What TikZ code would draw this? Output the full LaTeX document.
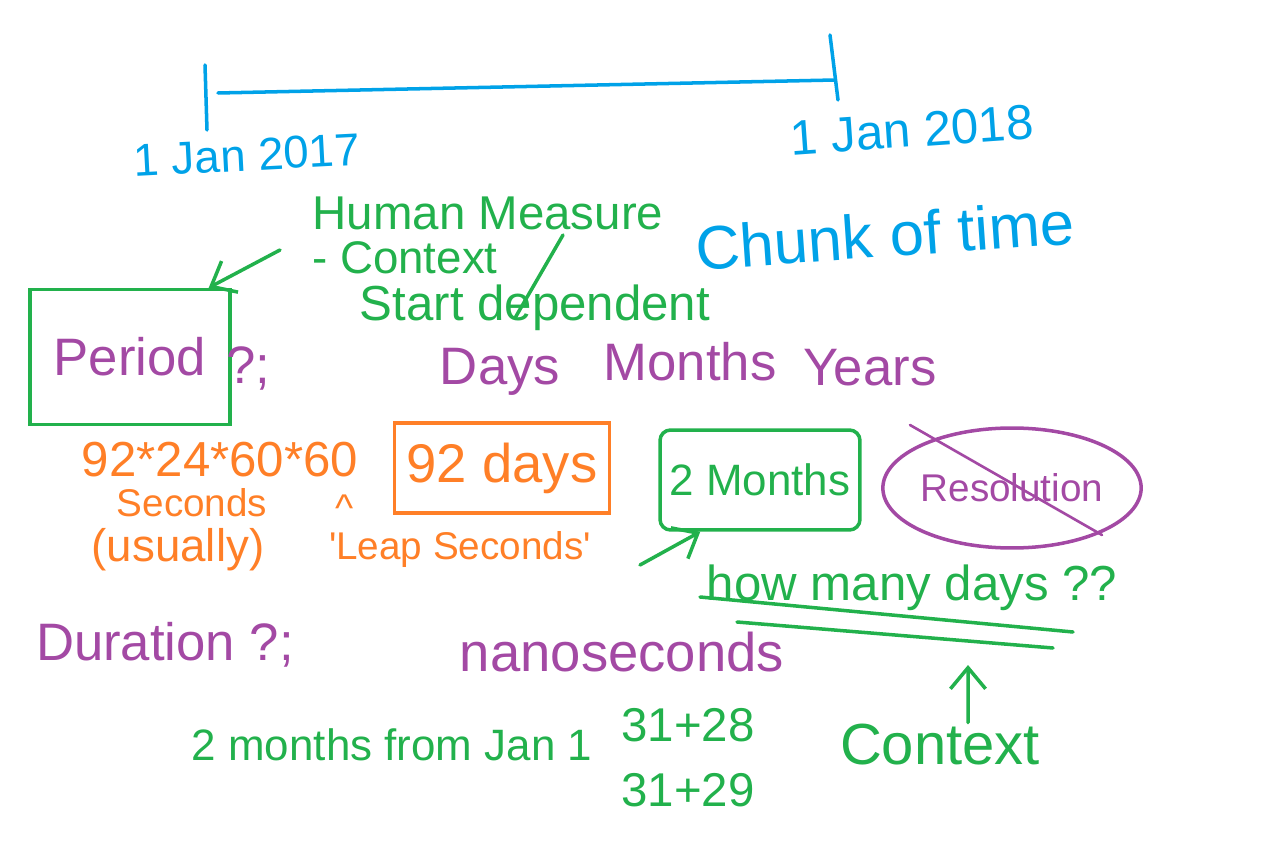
\documentclass[tikz,border=0pt]{standalone}
\usepackage{fontspec}
\setmainfont{Liberation Sans}
\usetikzlibrary{arrows.meta,shapes.geometric,positioning}
\definecolor{penblue}{RGB}{0,162,232}
\definecolor{pengreen}{RGB}{34,177,76}
\definecolor{penpurple}{RGB}{163,73,164}
\definecolor{penorange}{RGB}{255,127,39}
\tikzset{
  hand/.style={inner sep=0pt,font=\fontsize{#1pt}{#1pt}\selectfont},
  box/.style={draw,line width=2pt}
}
\begin{document}
\begin{tikzpicture}[x=0.02cm,y=-0.02cm,line width=2pt,line cap=round,
  >={Straight Barb[length=12pt,width=20pt]}]
  \useasboundingbox (0,0) rectangle (1264,847);

  % the year on a line
  \coordinate (t0) at (218,93);
  \coordinate (t1) at (835,80);
  \draw [penblue] (205,65) -- (207,130);
  \draw [penblue] (t0) -- (t1);
  \draw [penblue] (830,35) -- (838,100);
  \node [hand=26,penblue,rotate=3] (jan17) at (247,155) {1 Jan 2017};
  \node [hand=28,penblue,rotate=4] (jan18) at (912,130) {1 Jan 2018};
  \node [hand=35,penblue,rotate=4] (chunk) at (885,235) {Chunk of time};

  % green notes
  \node [hand=27,pengreen] (human) at (488,213) {Human Measure};
  \node [hand=26,pengreen] (context) at (405,258) {- Context};
  \node [hand=28,pengreen] (startdep) at (535,308) {Start dependent};
  \draw [pengreen] (563,235) -- (515,318);

  \node [box,pengreen,text=penpurple,hand=30,minimum width=4cm,
    minimum height=2.7cm] (period) at (130,357) {Period};
  \coordinate (hm) at (280,250);
  \draw [pengreen,->] (hm) -- ([xshift=-0.46cm]period.north east);
  \node [hand=30,penpurple] (q1) at (248,368) {?;};

  \node [hand=30,penpurple] (days) at (500,372) {Days};
  \node [hand=30,penpurple] (months) at (690,362) {Months};
  \node [hand=30,penpurple] (years) at (870,368) {Years};

  % orange
  \node [hand=28,penorange] (calc) at (220,460) {92*24*60*60};
  \node [hand=22,penorange] (secs) at (192,503) {Seconds};
  \node [hand=26,penorange] (usually) at (178,550) {(usually)};
  \node [hand=22,penorange] (caret) at (345,508) {\textasciicircum};
  \node [hand=22,penorange] (leap) at (460,550)
    {\textquotesingle Leap Seconds\textquotesingle};
  \node [box,penorange,hand=31,minimum width=4.3cm,
    minimum height=1.8cm] (ninety) at (502,468) {92 days};

  % two months
  \node [box,pengreen,rounded corners=6pt,hand=25,minimum width=4cm,
    minimum height=2cm] (twomonths) at (760,480) {2 Months};
  \node [ellipse,draw,penpurple,hand=22,minimum width=4.2cm,
    minimum height=2.4cm] (res) at (1012,488) {Resolution};
  \draw [penpurple,line width=1.5pt] (910,425) -- (1102,535);

  \coordinate (hmd) at (640,565);
  \draw [pengreen,->] (hmd) -- ([xshift=0.84cm]twomonths.south west);
  \node [hand=28,pengreen] (howmany) at (912,588) {how many days ??};
  \draw [pengreen] (700,597) -- (1073,632);
  \draw [pengreen] (737,622) -- (1053,648);

  \node [hand=30,penpurple] (duration) at (165,645) {Duration ?;};
  \node [hand=31,penpurple] (nano) at (622,652) {nanoseconds};

  \node [hand=25,pengreen] (fromjan) at (392,745) {2 months from Jan 1};
  \node [hand=27,pengreen] (feb) at (688,725) {31+28};
  \node [hand=27,pengreen] (leapfeb) at (688,790) {31+29};
  \node [hand=33,pengreen] (ctx) at (940,745) {Context};
  \coordinate (ctxtip) at (968,665);
  \draw [pengreen,->] ([xshift=0.56cm]ctx.north) -- (ctxtip);
\end{tikzpicture}
\end{document}
